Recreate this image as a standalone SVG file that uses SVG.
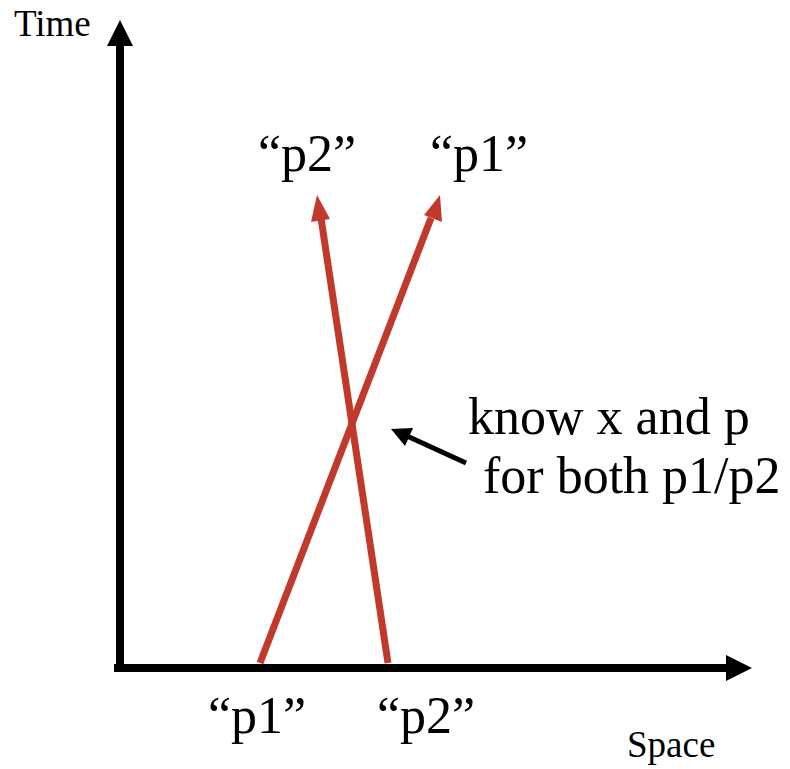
<svg xmlns="http://www.w3.org/2000/svg" width="790" height="769" viewBox="0 0 790 769">
<style>
.big{font-size:52px}
.ax{font-size:37px}
.axis{stroke:#000;stroke-width:8;fill:none}
.red{stroke:#C0392B;stroke-width:7;fill:none}
</style>
<rect width="790" height="769" fill="#fff"/>
<g id="axes">
<line class="axis" x1="120" y1="672" x2="120" y2="40"/>
<polygon points="120,20 133,46 107,46" fill="#000"/>
<line class="axis" x1="114" y1="668" x2="730" y2="668"/>
<polygon points="752,668 726,655 726,681" fill="#000"/>
</g>
<g id="connectors">
<line class="red" x1="260" y1="663" x2="431" y2="218"/>
<polygon points="440,195 442,222 424,215" fill="#C0392B"/>
<line class="red" x1="388" y1="663" x2="321" y2="218"/>
<polygon points="317,195 330,219 311,222" fill="#C0392B"/>
<line stroke="#000" stroke-width="5" x1="466" y1="463" x2="407" y2="436"/>
<polygon points="391,429 413,428 405,446" fill="#000"/>
</g>
<g id="labels" font-family="'Liberation Serif', 'Times New Roman', 'DejaVu Serif', serif" fill="#000">
<text class="ax" x="14" y="36">Time</text>
<text class="ax" x="627" y="757">Space</text>
<text class="big" x="258" y="171">“p2”</text>
<text class="big" x="430" y="171">“p1”</text>
<text class="big" x="208" y="733">“p1”</text>
<text class="big" x="377" y="733">“p2”</text>
<text class="big" x="468" y="434">know x and p</text>
<text class="big" x="483" y="493">for both p1/p2</text>
</g>
</svg>
